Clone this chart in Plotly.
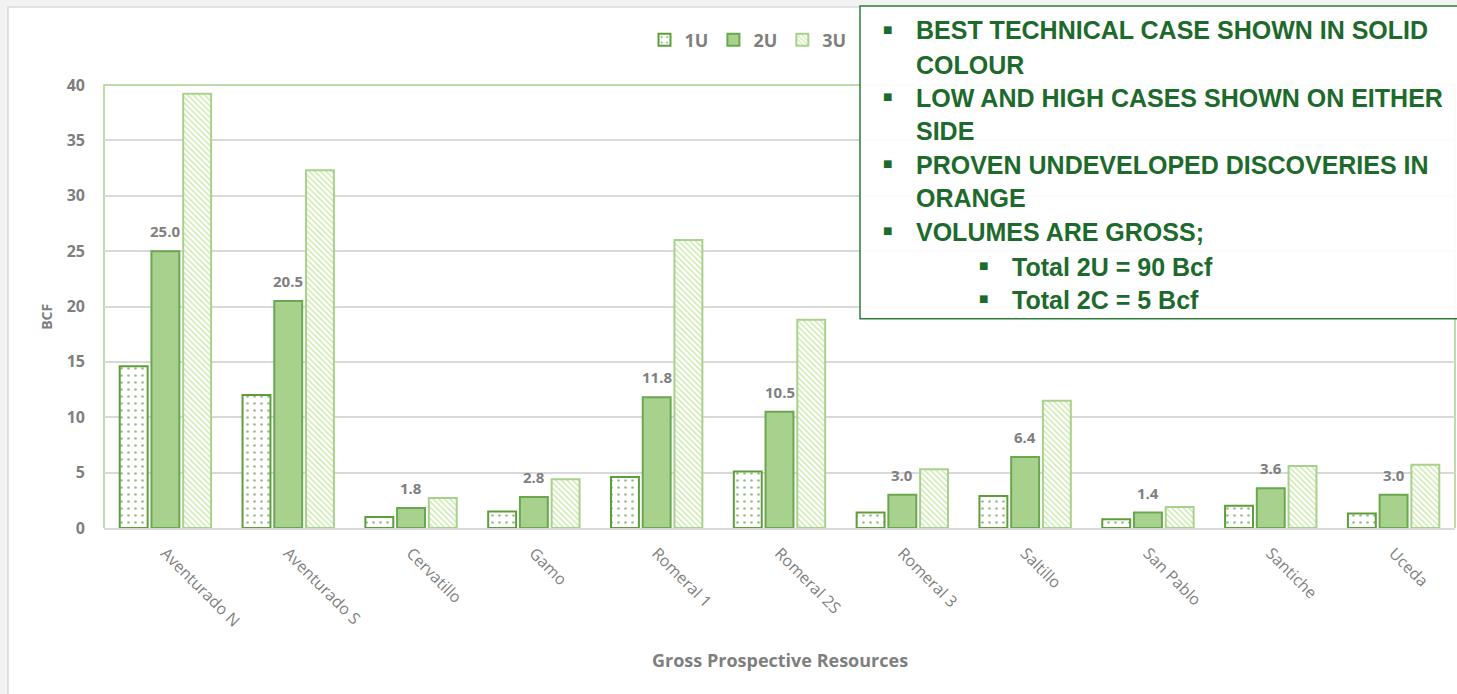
import plotly.graph_objects as go

# ---- data ----
prospects = ["Aventurado N", "Aventurado S", "Cervatillo", "Gamo", "Romeral 1", "Romeral 2S",
             "Romeral 3", "Saltillo", "San Pablo", "Santiche", "Uceda"]
low_1u = [14.6, 12.0, 1.0, 1.5, 4.6, 5.1, 1.4, 2.9, 0.8, 2.0, 1.3]
best_2u = [25.0, 20.5, 1.8, 2.8, 11.8, 10.5, 3.0, 6.4, 1.4, 3.6, 3.0]
high_3u = [39.2, 32.3, 2.7, 4.4, 26.0, 18.8, 5.3, 11.5, 1.9, 5.6, 5.7]
y_ticks = [0, 5, 10, 15, 20, 25, 30, 35, 40]

notes = [
    (0, "BEST TECHNICAL CASE SHOWN IN SOLID"),
    (None, "COLOUR"),
    (0, "LOW AND HIGH CASES SHOWN ON EITHER"),
    (None, "SIDE"),
    (0, "PROVEN UNDEVELOPED DISCOVERIES IN"),
    (None, "ORANGE"),
    (0, "VOLUMES ARE GROSS;"),
    (1, "Total 2U = 90 Bcf"),
    (1, "Total 2C = 5 Bcf"),
]

W, H = 1457, 694
L, R, T, B = 104, 1455, 85, 528.3
GRAY = "#7f7f7f"
DARK = "#1d6a2c"


def px(x):
    return (x - L) / (R - L)


def py(y):
    return (B - y) / (B - T)


fig = go.Figure()
fig.add_trace(go.Bar(
    x=prospects, y=low_1u, name="1U",
    marker=dict(color="white", line=dict(color="#5e9e3a", width=2),
                pattern=dict(shape=".", fgcolor="#3f7a22", bgcolor="white", size=7, solidity=0.12))))
fig.add_trace(go.Bar(
    x=prospects, y=best_2u, name="2U",
    marker=dict(color="#a9d18e", line=dict(color="#6aa84f", width=2))))
fig.add_trace(go.Bar(
    x=prospects, y=high_3u, name="3U",
    marker=dict(color="white", line=dict(color="#a9d18e", width=2),
                pattern=dict(shape="\\", fgcolor="#92d050", bgcolor="white", size=4, solidity=0.35))))

# data labels on the best case (middle bar sits on category centre)
for name, v in zip(prospects, best_2u):
    fig.add_annotation(x=name, y=v, xref="x", yref="y", text=f"{v:.1f}", showarrow=False,
                       yshift=20, font=dict(family="Open Sans", size=15, color=GRAY, weight="bold"))

# background card
fig.add_shape(type="rect", xref="paper", yref="paper", x0=px(8), x1=px(1470), y0=py(700), y1=py(7),
              fillcolor="white", line=dict(color="#d9d9d9", width=1.5), layer="below")
# plot area border (green on left, top, right)
fig.add_shape(type="path", xref="paper", yref="paper",
              path="M 0,0 L 0,1 L 1,1 L 1,0", line=dict(color="#a9d18e", width=1.5), layer="below")

# notes box
fig.add_shape(type="rect", xref="paper", yref="paper", x0=px(860), x1=px(1470), y0=py(319), y1=py(6),
              fillcolor="rgba(255,255,255,0.9)", line=dict(color="#2e7d3a", width=1.5), layer="above")
line_y = [30, 65, 98, 131, 165, 198, 232, 267, 300]
for (lvl, txt), yy in zip(notes, line_y):
    tx = 914 if lvl in (0, None) else 1010
    fig.add_annotation(x=px(tx), y=py(yy), xref="paper", yref="paper", text=txt, showarrow=False,
                       xanchor="left", yanchor="middle",
                       font=dict(family="Liberation Sans", size=25, color=DARK, weight="bold"))
    if lvl is not None:
        bx = 887 if lvl == 0 else 983
        fig.add_annotation(x=px(bx), y=py(yy - 1), xref="paper", yref="paper", text="■", showarrow=False,
                           xanchor="center", yanchor="middle",
                           font=dict(family="DejaVu Sans", size=10, color=DARK))

# axis titles
fig.add_annotation(x=px(47), y=py(317), xref="paper", yref="paper", text="BCF", showarrow=False,
                   xanchor="center", yanchor="middle", textangle=-90,
                   font=dict(family="Open Sans", size=14, color=GRAY, weight="bold"))
fig.add_annotation(x=0.5, y=py(660), xref="paper", yref="paper", text="Gross Prospective Resources",
                   xanchor="center", yanchor="middle", showarrow=False,
                   font=dict(family="Open Sans", size=18, color=GRAY, weight="bold"))

fig.update_layout(
    width=W, height=H,
    margin=dict(l=L, r=W - R, t=T, b=H - B),
    paper_bgcolor="#f2f2f2", plot_bgcolor="rgba(0,0,0,0)",
    barmode="group", bargap=0.225, bargroupgap=0.12,
    showlegend=True,
    legend=dict(orientation="h", x=px(748), y=py(40), xanchor="center", yanchor="middle",
                bgcolor="rgba(0,0,0,0)", itemwidth=30,
                font=dict(family="Open Sans", size=18, color=GRAY, weight="bold")),
)
fig.update_xaxes(tickangle=45, showline=True, linecolor="#d9d9d9", linewidth=1.5, ticks="",
                 ticklabelstandoff=8,
                 tickfont=dict(family="Open Sans", size=16, color=GRAY), showgrid=False)
fig.update_yaxes(range=[0, 40], tickvals=y_ticks, showgrid=True, gridcolor="#d9d9d9", gridwidth=1.5,
                 zeroline=False, showline=False, ticks="", ticklabelstandoff=18,
                 tickfont=dict(family="Open Sans", size=16, color=GRAY, weight="bold"))

fig.write_html("out.html", config={"displayModeBar": False},
               post_script="document.body.style.margin='0';")
